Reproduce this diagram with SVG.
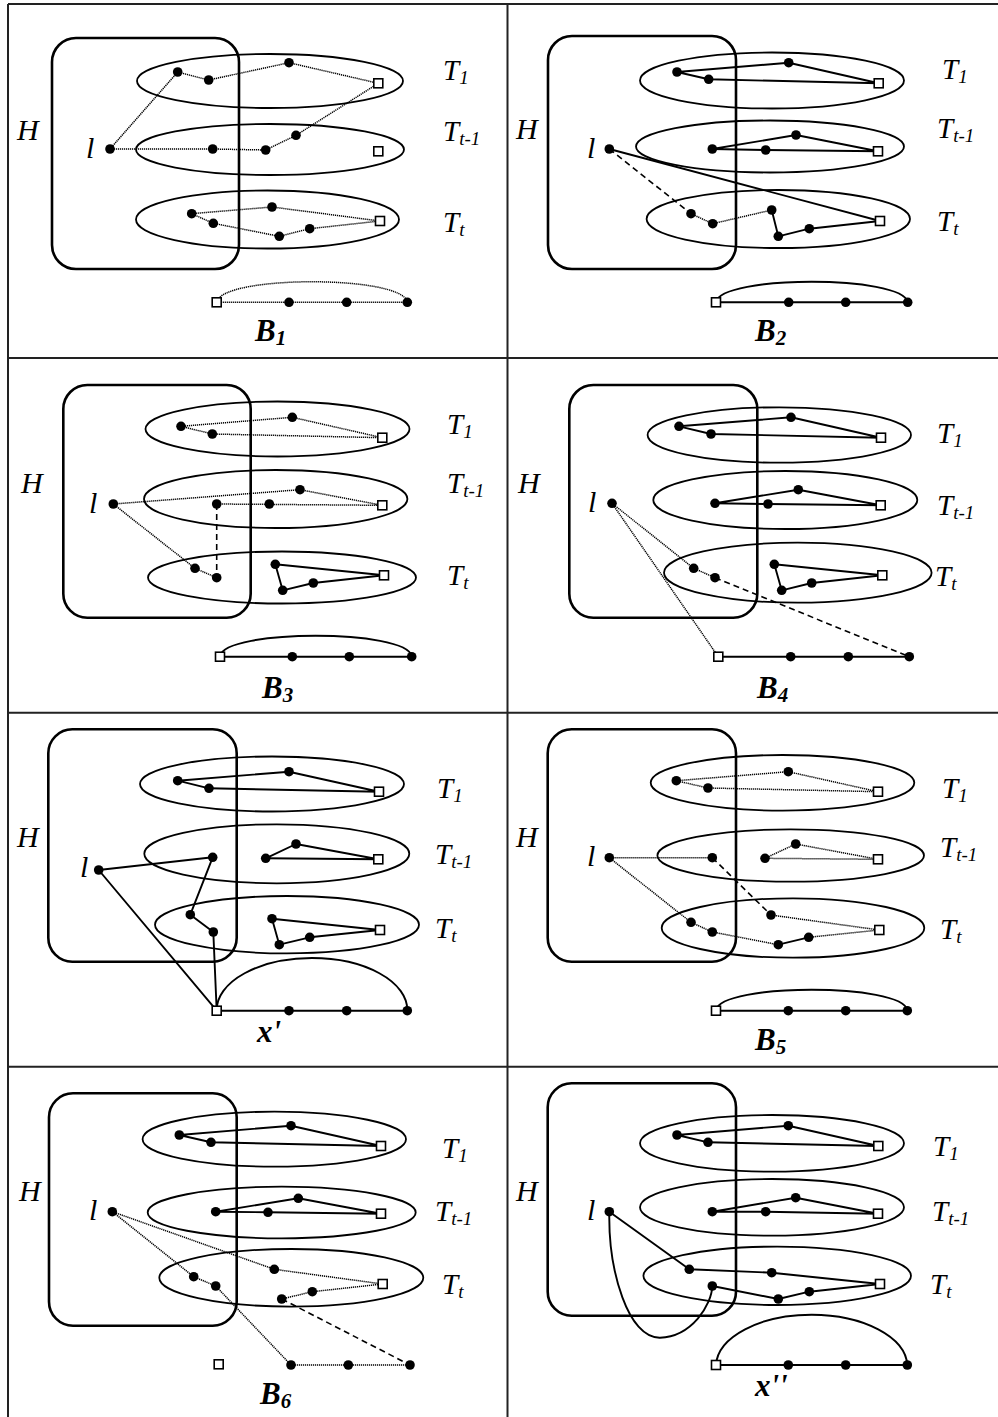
<svg xmlns="http://www.w3.org/2000/svg" width="998" height="1417" viewBox="0 0 998 1417">
<style>
.frame{fill:none;stroke:#222;stroke-width:2}
.box{fill:none;stroke:#000;stroke-width:2.6}
.ell{fill:none;stroke:#000;stroke-width:1.8}
.s{fill:none;stroke:#000;stroke-width:1.9;stroke-linejoin:round}
.d{fill:none;stroke:#000;stroke-width:1.5;stroke-dasharray:1.2 0.8}
.ds{fill:none;stroke:#000;stroke-width:1.6;stroke-dasharray:6 4}
.n{fill:#000}
.q{fill:#fff;stroke:#000;stroke-width:1.6}
.lab{font-family:"Liberation Serif","Times New Roman",serif;font-style:italic;font-size:30px;fill:#000}
.t{font-family:"Liberation Serif","Times New Roman",serif;font-style:italic;font-size:29px;fill:#000}
.sub{font-size:19px}
.b{font-family:"Liberation Serif","Times New Roman",serif;font-style:italic;font-weight:bold;font-size:31px;fill:#000}
.bs{font-size:21px}
</style>
<defs>
<circle id="dt" r="4.8" class="n"/>
<rect id="sq" x="-4.5" y="-4.5" width="9" height="9" class="q"/>
</defs>
<rect width="998" height="1417" fill="#fff"/>
<g id="grid">
<path class="frame" d="M8,4 H998 M8,4 V1417 M507.5,4 V1417 M8,358 H998 M8,712.7 H998 M8,1066.7 H998"/>
</g>

<!-- Panel 1 -->
<g id="panel1">
<g id="p1-H"><rect class="box" x="52" y="38" width="187" height="231" rx="24"/></g>
<g id="p1-T1"><ellipse class="ell" cx="270" cy="81" rx="133" ry="27"/></g>
<g id="p1-Tt1"><ellipse class="ell" cx="270" cy="149.5" rx="134" ry="25.5"/></g>
<g id="p1-Tt"><ellipse class="ell" cx="267.5" cy="219.5" rx="131.5" ry="29"/></g>
<g id="p1-connectors">
<path class="d" d="M110,149 L177.7,72 L208.7,80 L289,62.7 L378.3,83.3 L296,135.3 L265.7,150 L212.7,149 L110,149"/>
<path class="d" d="M191.7,213.7 L272,207 L380,221 L309.7,228.7 L279.3,236.3 L213.3,223.3 Z"/>
<path class="d" d="M216.7,302.3 L407.3,302.3 M216.7,302 C222,275 402,275 407.3,302"/>
</g>
<g id="p1-nodes">
<use href="#dt" x="110" y="149"/>
<use href="#dt" x="177.7" y="72"/><use href="#dt" x="208.7" y="80"/><use href="#dt" x="289" y="62.7"/><use href="#sq" x="378.3" y="83.3"/>
<use href="#dt" x="212.7" y="149"/><use href="#dt" x="265.7" y="150"/><use href="#dt" x="296" y="135.3"/><use href="#sq" x="378.3" y="151.3"/>
<use href="#dt" x="191.7" y="213.7"/><use href="#dt" x="213.3" y="223.3"/><use href="#dt" x="272" y="207"/><use href="#dt" x="279.3" y="236.3"/><use href="#dt" x="309.7" y="228.7"/><use href="#sq" x="380" y="221"/>
<use href="#sq" x="216.7" y="302.3"/><use href="#dt" x="289" y="302.3"/><use href="#dt" x="346.7" y="302.3"/><use href="#dt" x="407.3" y="302.3"/>
</g>
<g id="p1-labels">
<text class="lab" x="17" y="140">H</text>
<text class="lab" x="86" y="158">l</text>
<text class="t" x="443" y="80">T<tspan class="sub" dy="4">1</tspan></text>
<text class="t" x="443" y="141">T<tspan class="sub" dy="4">t-1</tspan></text>
<text class="t" x="443" y="232">T<tspan class="sub" dy="4">t</tspan></text>
<text class="b" x="255" y="341">B<tspan class="bs" dy="4">1</tspan></text>
</g>
</g>

<!-- Panel 2 -->
<g id="panel2">
<g id="p2-H"><rect class="box" x="548" y="36" width="188" height="233" rx="24"/></g>
<g id="p2-T1"><ellipse class="ell" cx="772" cy="80.5" rx="132" ry="28"/></g>
<g id="p2-Tt1"><ellipse class="ell" cx="770" cy="146.5" rx="134" ry="26"/></g>
<g id="p2-Tt"><ellipse class="ell" cx="778.3" cy="219" rx="131.7" ry="29"/></g>
<g id="p2-connectors">
<path class="s" d="M677,72 L788.7,62.7 L878.7,83.3 L708.7,79.3 Z"/>
<path class="s" d="M712.3,149 L796,135 L878,151.3 L765.7,150 Z"/>
<path class="s" d="M771.7,210 L778.3,236.3 L809.3,228.7 L880,221"/>
<path class="s" d="M609.3,149 L880,221"/>
<path class="s" d="M716,302.3 L907.7,302.3 M716,302 C721,275 902,275 907.7,302"/>
<path class="d" d="M691,213.7 L712.7,223.7 L771.7,210"/>
<path class="ds" d="M609.3,149 L691,213.7"/>
</g>
<g id="p2-nodes">
<use href="#dt" x="609.3" y="149"/>
<use href="#dt" x="677" y="72"/><use href="#dt" x="708.7" y="79.3"/><use href="#dt" x="788.7" y="62.7"/><use href="#sq" x="878.7" y="83.3"/>
<use href="#dt" x="712.3" y="149"/><use href="#dt" x="765.7" y="150"/><use href="#dt" x="796" y="135"/><use href="#sq" x="878" y="151.3"/>
<use href="#dt" x="691" y="213.7"/><use href="#dt" x="712.7" y="223.7"/><use href="#dt" x="771.7" y="210"/><use href="#dt" x="778.3" y="236.3"/><use href="#dt" x="809.3" y="228.7"/><use href="#sq" x="880" y="221"/>
<use href="#sq" x="716" y="302.3"/><use href="#dt" x="788.7" y="302.3"/><use href="#dt" x="845.7" y="302.3"/><use href="#dt" x="907.7" y="302.3"/>
</g>
<g id="p2-labels">
<text class="lab" x="516" y="139">H</text>
<text class="lab" x="587" y="158">l</text>
<text class="t" x="942" y="79">T<tspan class="sub" dy="4">1</tspan></text>
<text class="t" x="937" y="138">T<tspan class="sub" dy="4">t-1</tspan></text>
<text class="t" x="937" y="231">T<tspan class="sub" dy="4">t</tspan></text>
<text class="b" x="755" y="341">B<tspan class="bs" dy="4">2</tspan></text>
</g>
</g>

<!-- Panel 3 -->
<g id="panel3">
<g id="p3-H"><rect class="box" x="63.3" y="385" width="187.4" height="232.7" rx="24"/></g>
<g id="p3-T1"><ellipse class="ell" cx="277.5" cy="429" rx="132" ry="27.5"/></g>
<g id="p3-Tt1"><ellipse class="ell" cx="275.7" cy="499" rx="131.7" ry="29"/></g>
<g id="p3-Tt"><ellipse class="ell" cx="282" cy="577.5" rx="134" ry="26"/></g>
<g id="p3-connectors">
<path class="d" d="M181,426.3 L292.3,417.3 L382.3,437.7 L212.3,434 Z"/>
<path class="d" d="M113.3,504 L300,489.7 L382.3,505.3 L216.7,504"/>
<path class="d" d="M113.3,504 L195,568.3 L216.7,577.7"/>
<path class="ds" d="M216.7,504 L216.7,577.7"/>
<path class="s" d="M275.3,564.3 L384,575.3 L313.3,583 L282.7,590.3 Z"/>
<path class="s" d="M220,656.7 L411.7,656.7 M220,656 C225,629 406,629 411.7,656"/>
</g>
<g id="p3-nodes">
<use href="#dt" x="113.3" y="504"/>
<use href="#dt" x="181" y="426.3"/><use href="#dt" x="212.3" y="434"/><use href="#dt" x="292.3" y="417.3"/><use href="#sq" x="382.3" y="437.7"/>
<use href="#dt" x="300" y="489.7"/><use href="#dt" x="216.7" y="504"/><use href="#dt" x="269.3" y="504"/><use href="#sq" x="382.3" y="505.3"/>
<use href="#dt" x="195" y="568.3"/><use href="#dt" x="216.7" y="577.7"/><use href="#dt" x="275.3" y="564.3"/><use href="#dt" x="282.7" y="590.3"/><use href="#dt" x="313.3" y="583"/><use href="#sq" x="384" y="575.3"/>
<use href="#sq" x="220" y="656.7"/><use href="#dt" x="292.3" y="656.7"/><use href="#dt" x="349.3" y="656.7"/><use href="#dt" x="411.7" y="656.7"/>
</g>
<g id="p3-labels">
<text class="lab" x="21" y="493">H</text>
<text class="lab" x="89" y="513">l</text>
<text class="t" x="447" y="434">T<tspan class="sub" dy="4">1</tspan></text>
<text class="t" x="447" y="493">T<tspan class="sub" dy="4">t-1</tspan></text>
<text class="t" x="447" y="585">T<tspan class="sub" dy="4">t</tspan></text>
<text class="b" x="262" y="698">B<tspan class="bs" dy="4">3</tspan></text>
</g>
</g>

<!-- Panel 4 -->
<g id="panel4">
<g id="p4-H"><rect class="box" x="569.3" y="385" width="188" height="232.7" rx="24"/></g>
<g id="p4-T1"><ellipse class="ell" cx="779.3" cy="435" rx="131.7" ry="27.7"/></g>
<g id="p4-Tt1"><ellipse class="ell" cx="785.3" cy="500" rx="132" ry="29"/></g>
<g id="p4-Tt"><ellipse class="ell" cx="797.8" cy="572.7" rx="133.8" ry="30"/></g>
<g id="p4-connectors">
<path class="s" d="M679,426.3 L791,417.3 L881,437.7 L711,434 Z"/>
<path class="s" d="M715,503.3 L798.3,489.7 L880.7,505.3 L768,504 Z"/>
<path class="s" d="M774.3,564.3 L882.3,575.3 L811.7,583 L781.7,590.3 Z"/>
<path class="s" d="M718.3,656.7 L909.3,656.7"/>
<path class="d" d="M612,503.3 L693.7,568.3 L715,577.7 M612,503.3 L718.3,656.7"/>
<path class="ds" d="M715,577.7 L909.3,656.7"/>
</g>
<g id="p4-nodes">
<use href="#dt" x="612" y="503.3"/>
<use href="#dt" x="679" y="426.3"/><use href="#dt" x="711" y="434"/><use href="#dt" x="791" y="417.3"/><use href="#sq" x="881" y="437.7"/>
<use href="#dt" x="715" y="503.3"/><use href="#dt" x="768" y="504"/><use href="#dt" x="798.3" y="489.7"/><use href="#sq" x="880.7" y="505.3"/>
<use href="#dt" x="693.7" y="568.3"/><use href="#dt" x="715" y="577.7"/><use href="#dt" x="774.3" y="564.3"/><use href="#dt" x="781.7" y="590.3"/><use href="#dt" x="811.7" y="583"/><use href="#sq" x="882.3" y="575.3"/>
<use href="#sq" x="718.3" y="656.7"/><use href="#dt" x="790.7" y="656.7"/><use href="#dt" x="848.3" y="656.7"/><use href="#dt" x="909.3" y="656.7"/>
</g>
<g id="p4-labels">
<text class="lab" x="518" y="493">H</text>
<text class="lab" x="588" y="512">l</text>
<text class="t" x="937" y="443">T<tspan class="sub" dy="4">1</tspan></text>
<text class="t" x="937" y="515">T<tspan class="sub" dy="4">t-1</tspan></text>
<text class="t" x="935" y="586">T<tspan class="sub" dy="4">t</tspan></text>
<text class="b" x="757" y="698">B<tspan class="bs" dy="4">4</tspan></text>
</g>
</g>

<!-- Panel 5 -->
<g id="panel5">
<g id="p5-H"><rect class="box" x="48.3" y="729.3" width="188.4" height="232.4" rx="24"/></g>
<g id="p5-T1"><ellipse class="ell" cx="272" cy="784" rx="132" ry="27.5"/></g>
<g id="p5-Tt1"><ellipse class="ell" cx="276.8" cy="853.8" rx="132.5" ry="29.5"/></g>
<g id="p5-Tt"><ellipse class="ell" cx="287" cy="924.7" rx="132" ry="28.7"/></g>
<g id="p5-connectors">
<path class="s" d="M177.7,780.7 L289,771.7 L379,791.7 L209,788.3 Z"/>
<path class="s" d="M98.7,870 L212.7,857.3 L190.3,914.7 L213.3,932 L216.7,1010.7 Z"/>
<path class="s" d="M265.7,858.3 L296,844 L378.3,859.3 Z"/>
<path class="s" d="M272,918.7 L380,930 L309.7,937.3 L279.3,944.7 Z"/>
<path class="s" d="M216.7,1010.7 L407.3,1010.7 M216.7,1010 A95.3,52 0 0 1 407.3,1010"/>
</g>
<g id="p5-nodes">
<use href="#dt" x="98.7" y="870"/>
<use href="#dt" x="177.7" y="780.7"/><use href="#dt" x="209" y="788.3"/><use href="#dt" x="289" y="771.7"/><use href="#sq" x="379" y="791.7"/>
<use href="#dt" x="212.7" y="857.3"/><use href="#dt" x="265.7" y="858.3"/><use href="#dt" x="296" y="844"/><use href="#sq" x="378.3" y="859.3"/>
<use href="#dt" x="190.3" y="914.7"/><use href="#dt" x="213.3" y="932"/><use href="#dt" x="272" y="918.7"/><use href="#dt" x="279.3" y="944.7"/><use href="#dt" x="309.7" y="937.3"/><use href="#sq" x="380" y="930"/>
<use href="#sq" x="216.7" y="1010.7"/><use href="#dt" x="289" y="1010.7"/><use href="#dt" x="346.7" y="1010.7"/><use href="#dt" x="407.3" y="1010.7"/>
</g>
<g id="p5-labels">
<text class="lab" x="17" y="847">H</text>
<text class="lab" x="80" y="877">l</text>
<text class="t" x="437" y="798">T<tspan class="sub" dy="4">1</tspan></text>
<text class="t" x="435" y="864">T<tspan class="sub" dy="4">t-1</tspan></text>
<text class="t" x="435" y="938">T<tspan class="sub" dy="4">t</tspan></text>
<text class="b" x="257" y="1042">x'</text>
</g>
</g>

<!-- Panel 6 -->
<g id="panel6">
<g id="p6-H"><rect class="box" x="547.7" y="729.3" width="188.3" height="232.4" rx="24"/></g>
<g id="p6-T1"><ellipse class="ell" cx="782.5" cy="782.8" rx="131.8" ry="27.8"/></g>
<g id="p6-Tt1"><ellipse class="ell" cx="790.7" cy="855.5" rx="133.3" ry="26.2"/></g>
<g id="p6-Tt"><ellipse class="ell" cx="793" cy="928" rx="131.3" ry="29.7"/></g>
<g id="p6-connectors">
<path class="d" d="M676.3,780.7 L788.3,771.7 L878,791.7 L708,788 Z"/>
<path class="d" d="M609.3,857.7 L712.3,857.7"/>
<path class="d" d="M765,858.3 L795.7,844 L878,859.3 Z"/>
<path class="d" d="M609.3,857.7 L691,922.3 L712.3,932 L778.3,944.7"/>
<path class="d" d="M808.7,937.3 L879.3,930 L771,915"/>
<path class="s" d="M778.3,944.7 L808.7,937.3"/>
<path class="ds" d="M712.3,857.7 L771,915"/>
<path class="s" d="M716,1010.7 L907.3,1010.7 M716,1010 C721,983 902,983 907.3,1010"/>
</g>
<g id="p6-nodes">
<use href="#dt" x="609.3" y="857.7"/>
<use href="#dt" x="676.3" y="780.7"/><use href="#dt" x="708" y="788"/><use href="#dt" x="788.3" y="771.7"/><use href="#sq" x="878" y="791.7"/>
<use href="#dt" x="712.3" y="857.7"/><use href="#dt" x="765" y="858.3"/><use href="#dt" x="795.7" y="844"/><use href="#sq" x="878" y="859.3"/>
<use href="#dt" x="691" y="922.3"/><use href="#dt" x="712.3" y="932"/><use href="#dt" x="771" y="915"/><use href="#dt" x="778.3" y="944.7"/><use href="#dt" x="808.7" y="937.3"/><use href="#sq" x="879.3" y="930"/>
<use href="#sq" x="716" y="1010.7"/><use href="#dt" x="788.3" y="1010.7"/><use href="#dt" x="845.7" y="1010.7"/><use href="#dt" x="907.3" y="1010.7"/>
</g>
<g id="p6-labels">
<text class="lab" x="516" y="847">H</text>
<text class="lab" x="587" y="866">l</text>
<text class="t" x="942" y="798">T<tspan class="sub" dy="4">1</tspan></text>
<text class="t" x="940" y="857">T<tspan class="sub" dy="4">t-1</tspan></text>
<text class="t" x="940" y="939">T<tspan class="sub" dy="4">t</tspan></text>
<text class="b" x="755" y="1050">B<tspan class="bs" dy="4">5</tspan></text>
</g>
</g>

<!-- Panel 7 -->
<g id="panel7">
<g id="p7-H"><rect class="box" x="49" y="1093.3" width="187.7" height="232.4" rx="24"/></g>
<g id="p7-T1"><ellipse class="ell" cx="274.3" cy="1139.2" rx="131.7" ry="27.5"/></g>
<g id="p7-Tt1"><ellipse class="ell" cx="281.7" cy="1212.5" rx="134" ry="25.8"/></g>
<g id="p7-Tt"><ellipse class="ell" cx="291.3" cy="1277.8" rx="132" ry="28.8"/></g>
<g id="p7-connectors">
<path class="s" d="M179.3,1135 L291,1125.7 L381,1146 L211,1142.3 Z"/>
<path class="s" d="M215.7,1211.7 L298.3,1198.3 L381,1213.7 L268,1212.3 Z"/>
<path class="d" d="M112.3,1211.7 L193.7,1276.7 L215.7,1286 L291,1365"/>
<path class="d" d="M112.3,1211.7 L274.3,1269.3 L382.7,1284 L312.3,1291.7 L281.7,1299"/>
<path class="d" d="M291,1365 L410,1365"/>
<path class="ds" d="M281.7,1299 L410,1365"/>
</g>
<g id="p7-nodes">
<use href="#dt" x="112.3" y="1211.7"/>
<use href="#dt" x="179.3" y="1135"/><use href="#dt" x="211" y="1142.3"/><use href="#dt" x="291" y="1125.7"/><use href="#sq" x="381" y="1146"/>
<use href="#dt" x="215.7" y="1211.7"/><use href="#dt" x="268" y="1212.3"/><use href="#dt" x="298.3" y="1198.3"/><use href="#sq" x="381" y="1213.7"/>
<use href="#dt" x="193.7" y="1276.7"/><use href="#dt" x="215.7" y="1286"/><use href="#dt" x="274.3" y="1269.3"/><use href="#dt" x="312.3" y="1291.7"/><use href="#dt" x="281.7" y="1299"/><use href="#sq" x="382.7" y="1284"/>
<use href="#sq" x="218.7" y="1364.3"/><use href="#dt" x="291" y="1365"/><use href="#dt" x="348.3" y="1365"/><use href="#dt" x="410" y="1365"/>
</g>
<g id="p7-labels">
<text class="lab" x="19" y="1201">H</text>
<text class="lab" x="89" y="1220">l</text>
<text class="t" x="442" y="1158">T<tspan class="sub" dy="4">1</tspan></text>
<text class="t" x="435" y="1221">T<tspan class="sub" dy="4">t-1</tspan></text>
<text class="t" x="442" y="1294">T<tspan class="sub" dy="4">t</tspan></text>
<text class="b" x="260" y="1404">B<tspan class="bs" dy="4">6</tspan></text>
</g>
</g>

<!-- Panel 8 -->
<g id="panel8">
<g id="p8-H"><rect class="box" x="547.7" y="1083.3" width="188.3" height="232.4" rx="24"/></g>
<g id="p8-T1"><ellipse class="ell" cx="772" cy="1143.3" rx="132" ry="28.3"/></g>
<g id="p8-Tt1"><ellipse class="ell" cx="772" cy="1207.3" rx="132" ry="28.3"/></g>
<g id="p8-Tt"><ellipse class="ell" cx="777.2" cy="1275.8" rx="133.8" ry="29.2"/></g>
<g id="p8-connectors">
<path class="s" d="M677,1135 L788.3,1125.7 L878.3,1146 L708,1142.3 Z"/>
<path class="s" d="M712.3,1211.7 L795.7,1197.7 L878,1213.7 L765.7,1211.7 Z"/>
<path class="s" d="M609.3,1211.7 L689.3,1269.3 L771.7,1272.7 L880,1284 L809.3,1291.7 L778.3,1299 L712.3,1286"/>
<path class="s" d="M609.3,1211.7 C608.3,1271.7 628.3,1338.3 660,1337.7 C691.7,1336.7 711.7,1305 712.3,1286"/>
<path class="s" d="M716,1365 L907.3,1365 M716,1365 A95.7,52 0 0 1 907.3,1365"/>
</g>
<g id="p8-nodes">
<use href="#dt" x="609.3" y="1211.7"/>
<use href="#dt" x="677" y="1135"/><use href="#dt" x="708" y="1142.3"/><use href="#dt" x="788.3" y="1125.7"/><use href="#sq" x="878.3" y="1146"/>
<use href="#dt" x="712.3" y="1211.7"/><use href="#dt" x="765.7" y="1211.7"/><use href="#dt" x="795.7" y="1197.7"/><use href="#sq" x="878" y="1213.7"/>
<use href="#dt" x="689.3" y="1269.3"/><use href="#dt" x="771.7" y="1272.7"/><use href="#dt" x="809.3" y="1291.7"/><use href="#dt" x="778.3" y="1299"/><use href="#dt" x="712.3" y="1286"/><use href="#sq" x="880" y="1284"/>
<use href="#sq" x="716" y="1365"/><use href="#dt" x="788.3" y="1365"/><use href="#dt" x="845.7" y="1365"/><use href="#dt" x="907.3" y="1365"/>
</g>
<g id="p8-labels">
<text class="lab" x="516" y="1201">H</text>
<text class="lab" x="587" y="1220">l</text>
<text class="t" x="933" y="1156">T<tspan class="sub" dy="4">1</tspan></text>
<text class="t" x="932" y="1221">T<tspan class="sub" dy="4">t-1</tspan></text>
<text class="t" x="930" y="1294">T<tspan class="sub" dy="4">t</tspan></text>
<text class="b" x="755" y="1396">x''</text>
</g>
</g>
</svg>
